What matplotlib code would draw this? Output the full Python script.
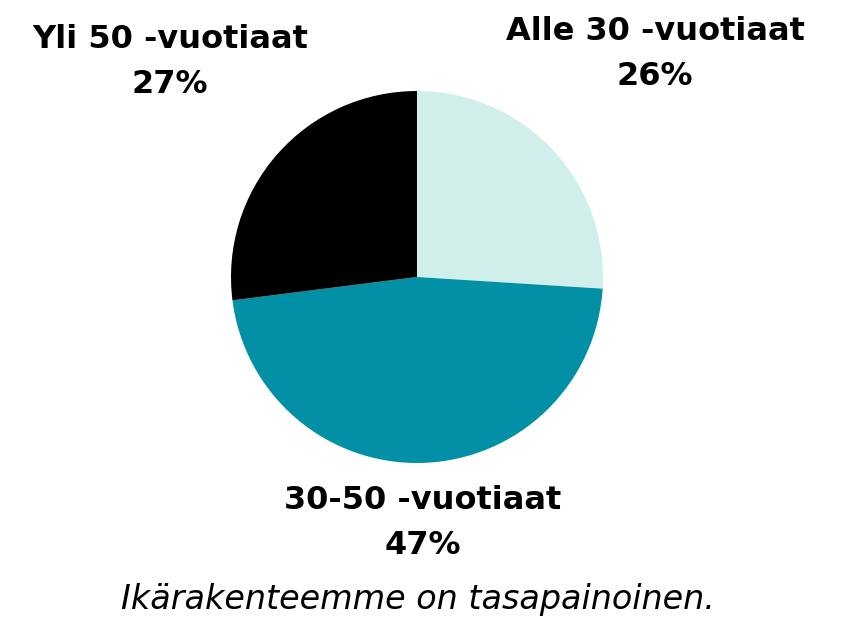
import matplotlib
matplotlib.use("Agg")
import matplotlib.pyplot as plt

labels = ["Alle 30 -vuotiaat", "30-50 -vuotiaat", "Yli 50 -vuotiaat"]
values = [26, 47, 27]
colors = ["#D0EFEB", "#0290A6", "#000000"]
caption = "Ikärakenteemme on tasapainoinen."

W, H = 854, 618
fig = plt.figure(figsize=(W / 100, H / 100), dpi=100)
cx, cy, r = 417, 277, 186
ax = fig.add_axes([(cx - r) / W, (H - cy - r) / H, 2 * r / W, 2 * r / H])
ax.pie(values, colors=colors, startangle=90, counterclock=False, radius=1,
       wedgeprops=dict(linewidth=0))
ax.set_xlim(-1, 1)
ax.set_ylim(-1, 1)
ax.set_aspect("equal")
ax.axis("off")

label_pos = {0: (655, 54), 1: (423, 523), 2: (170, 62)}
for i, (lab, v) in enumerate(zip(labels, values)):
    x, y = label_pos[i]
    fig.text(x / W, 1 - y / H, f"{lab}\n{v}%", ha="center", va="center",
             fontsize=23, fontweight="bold", family="DejaVu Sans", linespacing=1.55)

fig.text(418 / W, 1 - 600 / H, caption, ha="center", va="center",
         fontsize=24, style="italic", family="DejaVu Sans")

fig.savefig("out.png", dpi=100, facecolor="white")
